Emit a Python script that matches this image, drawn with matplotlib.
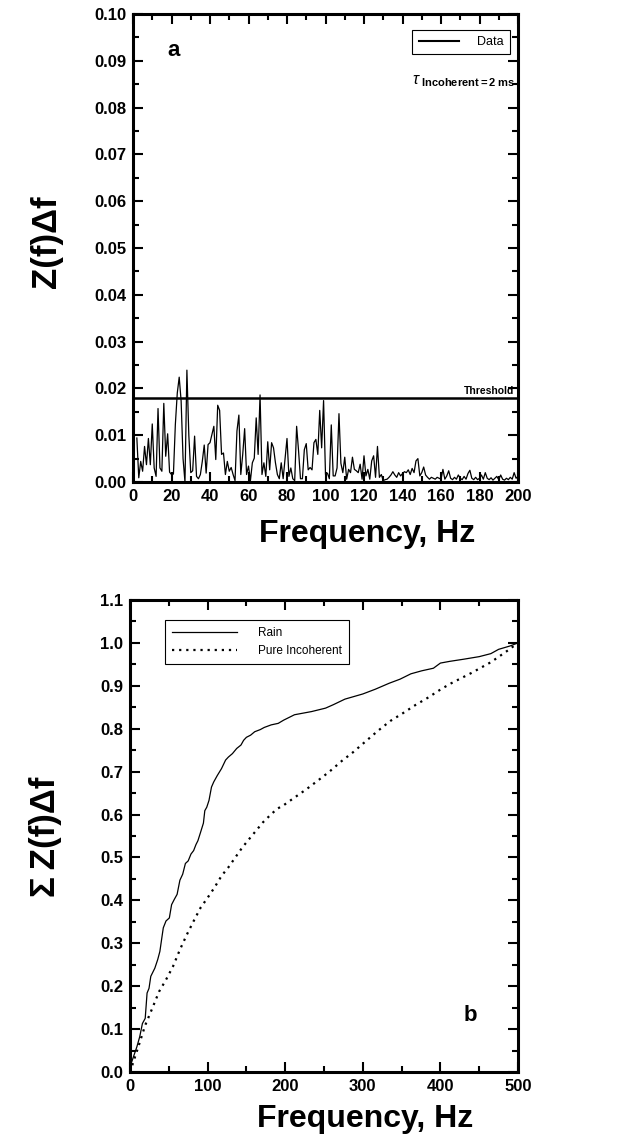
import matplotlib
matplotlib.use("Agg")
import matplotlib.pyplot as plt
from matplotlib.ticker import MultipleLocator, FormatStrFormatter
from matplotlib.lines import Line2D

plt.rcParams['font.family'] = ['Liberation Sans', 'DejaVu Sans']
plt.rcParams['mathtext.fontset'] = 'custom'
plt.rcParams['mathtext.rm'] = 'Liberation Sans'
plt.rcParams['mathtext.bf'] = 'Liberation Sans:bold'
plt.rcParams['mathtext.it'] = 'Liberation Sans:italic'

# panel a: Z(f)df per 1 Hz bin, values in units of 1e-3
freq_a = list(range(2, 201))
zdf_a = [
    9.4, 0.9, 4.4, 2.3, 7.6, 3.7, 9.3, 3.7, 12.4, 3.0,
    1.2, 15.7, 3.0, 2.3, 16.8, 5.5, 10.3, 2.1, 1.6, 1.7,
    12.3, 19.0, 22.4, 17.3, 5.0, 0.0, 23.9, 10.0, 2.0, 2.4,
    9.8, 1.2, 0.7, 1.6, 4.4, 7.9, 1.9, 8.0, 8.4, 10.1,
    11.9, 4.8, 16.4, 15.3, 5.9, 6.2, 1.6, 4.4, 2.3, 3.1,
    1.6, 0.3, 10.9, 14.3, 1.6, 5.9, 11.4, 1.6, 3.4, 0.3,
    4.1, 5.1, 13.7, 5.9, 18.6, 1.6, 4.1, 1.2, 8.6, 2.6,
    8.4, 7.3, 4.1, 1.6, 0.7, 4.1, 0.7, 5.1, 9.3, 1.2,
    3.0, 0.7, 0.3, 11.9, 6.7, 0.7, 0.7, 6.9, 8.2, 2.6,
    3.1, 2.6, 8.4, 9.1, 5.9, 15.3, 7.3, 17.4, 1.6, 1.9,
    # 102..
    0.7, 12.2, 1.3, 1.3, 3.0, 14.6, 4.0, 2.0, 5.3, 0.6,
    2.7, 2.0, 5.3, 2.7, 2.4, 2.0, 3.8, 0.6, 5.6, 1.3,
    2.7, 0.6, 4.5, 5.6, 1.0, 7.6, 1.0, 1.6, 0.3, 0.5,
    0.6, 1.0, 1.5, 2.2, 1.5, 1.0, 2.0, 1.3, 1.8, 2.2,
    2.0, 2.6, 1.6, 2.9, 2.0, 4.5, 5.0, 1.3, 2.0, 3.2,
    1.5, 1.0, 0.6, 1.0, 0.8, 0.6, 1.0, 0.8, 0.6, 2.7,
    0.6, 1.3, 2.4, 0.8, 0.5, 1.0, 0.6, 1.5, 0.8, 0.5,
    1.2, 0.6, 1.8, 2.5, 0.8, 0.5, 1.0, 0.5, 0.8, 1.5,
    0.6, 2.0, 0.8, 0.5, 0.9, 0.4, 0.8, 1.2, 0.5, 1.5,
    0.6, 0.4, 0.8, 0.5, 1.0, 0.6, 2.0, 0.8, 1.2,
]
threshold = 0.018

# panel b: cumulative sums
rain_f = [0, 3.6, 8.9, 12.5, 16, 19.6, 22, 24.5, 26.8, 32, 35.7, 38.5, 41, 42.9,
          46.4, 50.7, 53.6, 57, 60.7, 64.3, 67.9, 71.4, 75, 78.6, 82, 85, 87.5,
          91, 94.6, 96.4, 98.9, 101.8, 105, 107.9, 112.5, 117.9, 123.2, 126.8,
          132, 137.5, 143, 146.4, 150, 155.4, 160.7, 167.9, 173, 182, 191, 198,
          212, 234, 252, 262, 277, 300, 316, 334, 348, 362, 376, 391, 400, 412,
          430, 450, 465, 475, 490, 500]
rain_v = [0.012, 0.031, 0.059, 0.082, 0.113, 0.125, 0.184, 0.195, 0.223, 0.242,
          0.262, 0.281, 0.3125, 0.336, 0.352, 0.359, 0.39, 0.402, 0.414, 0.447,
          0.461, 0.486, 0.492, 0.508, 0.516, 0.53, 0.539, 0.559, 0.58, 0.609,
          0.617, 0.633, 0.664, 0.676, 0.691, 0.707, 0.727, 0.734, 0.742, 0.754,
          0.762, 0.773, 0.78, 0.785, 0.793, 0.798, 0.803, 0.809, 0.8125, 0.82,
          0.8326, 0.840, 0.848, 0.856, 0.869, 0.881, 0.892, 0.906, 0.9155, 0.928,
          0.935, 0.941, 0.953, 0.957, 0.962, 0.968, 0.975, 0.985, 0.993, 1.0]
inc_f = [0, 2.9, 10.7, 19.6, 28.6, 37.5, 46.4, 55.4, 64.3, 73.2, 82.1, 91, 100,
         108.9, 117.9, 126.8, 135.7, 144.6, 153.6, 162.5, 171.4, 180.4, 189.3,
         198.2, 212.3, 226.6, 242.7, 257, 273, 287.3, 303.3, 319.4, 335.4, 351.5,
         367.6, 383.6, 401.5, 414, 440, 465, 485, 500]
inc_v = [0.0, 0.0156, 0.0586, 0.109, 0.148, 0.1875, 0.215, 0.246, 0.285, 0.32,
         0.352, 0.383, 0.406, 0.43, 0.457, 0.477, 0.5, 0.523, 0.543, 0.5625,
         0.582, 0.598, 0.613, 0.622, 0.64, 0.658, 0.68, 0.70, 0.725, 0.745,
         0.77, 0.795, 0.818, 0.836, 0.855, 0.872, 0.893, 0.906, 0.93, 0.955,
         0.98, 1.0]


def style_axes(ax):
    for s in ax.spines.values():
        s.set_linewidth(2.2)
    ax.tick_params(which='both', direction='in', top=True, right=True,
                   labelsize=12, width=1.5, pad=5)
    ax.tick_params(which='major', length=7)
    ax.tick_params(which='minor', length=4)
    for lab in ax.get_xticklabels() + ax.get_yticklabels():
        lab.set_fontweight('bold')


fig = plt.figure(figsize=(6.17, 11.41), dpi=100)

# ---- panel a
ax1 = fig.add_axes([133 / 617, 1 - 482 / 1141, 385 / 617, 468 / 1141])
ax1.plot(freq_a, [v / 1000 for v in zdf_a], color='black', lw=0.9)
ax1.axhline(threshold, color='black', lw=1.8)
ax1.set_xlim(0, 200)
ax1.set_ylim(0, 0.10)
ax1.xaxis.set_major_locator(MultipleLocator(20))
ax1.xaxis.set_minor_locator(MultipleLocator(10))
ax1.yaxis.set_major_locator(MultipleLocator(0.01))
ax1.yaxis.set_minor_locator(MultipleLocator(0.005))
ax1.yaxis.set_major_formatter(FormatStrFormatter('%.2f'))
style_axes(ax1)
ax1.set_xlabel('Frequency, Hz', fontsize=23, fontweight='bold')
ax1.xaxis.set_label_coords(0.608, -0.08)
ax1.set_ylabel('Z(f)\u0394f', fontsize=25, fontweight='bold')
ax1.yaxis.set_label_coords(-0.183, 0.513)
ax1.text(0.09, 0.922, 'a', transform=ax1.transAxes, fontsize=16,
         fontweight='bold', va='center', ha='left')
ax1.text(0.99, threshold + 0.0004, 'Threshold', transform=ax1.get_yaxis_transform(),
         ha='right', va='bottom', fontsize=7.5, fontweight='bold')
ax1.text(0.725, 0.856, r'$\tau_{\ \mathbf{Incoherent{=}2\ ms}}$',
         transform=ax1.transAxes, fontsize=11.5, ha='left', va='center')
leg1 = ax1.legend([Line2D([], [], color='black', lw=1.5)], ['Data'],
                  loc='upper right', bbox_to_anchor=(0.98, 0.966),
                  borderaxespad=0, fancybox=False, edgecolor='black',
                  framealpha=1, fontsize=9, handlelength=3.2, borderpad=0.5,
                  handletextpad=1.5)
leg1.get_frame().set_linewidth(0.8)

# ---- panel b
ax2 = fig.add_axes([130 / 617, 1 - 1072 / 1141, 388 / 617, 472 / 1141])
ax2.plot(rain_f, rain_v, color='black', lw=0.9, label='Rain')
ax2.plot(inc_f, inc_v, color='black', lw=1.6, linestyle=(0, (1, 2.2)),
         label='Pure Incoherent')
ax2.set_xlim(0, 500)
ax2.set_ylim(0, 1.1)
ax2.xaxis.set_major_locator(MultipleLocator(100))
ax2.xaxis.set_minor_locator(MultipleLocator(50))
ax2.yaxis.set_major_locator(MultipleLocator(0.1))
ax2.yaxis.set_minor_locator(MultipleLocator(0.05))
ax2.yaxis.set_major_formatter(FormatStrFormatter('%.1f'))
style_axes(ax2)
ax2.set_xlabel('Frequency, Hz', fontsize=23, fontweight='bold')
ax2.xaxis.set_label_coords(0.606, -0.068)
ax2.set_ylabel('\u03a3\u2009Z(f)\u0394f', fontsize=25, fontweight='bold')
ax2.yaxis.set_label_coords(-0.175, 0.498)
ax2.text(0.86, 0.12, 'b', transform=ax2.transAxes, fontsize=16,
         fontweight='bold', va='center', ha='left')
leg2 = ax2.legend(loc='upper left', bbox_to_anchor=(0.09, 0.958),
                  borderaxespad=0, fancybox=False, edgecolor='black',
                  framealpha=1, fontsize=8.5, handlelength=5.5, borderpad=0.6,
                  labelspacing=0.5, handletextpad=1.8)
leg2.get_frame().set_linewidth(0.8)

fig.savefig('out.png', dpi=100)
